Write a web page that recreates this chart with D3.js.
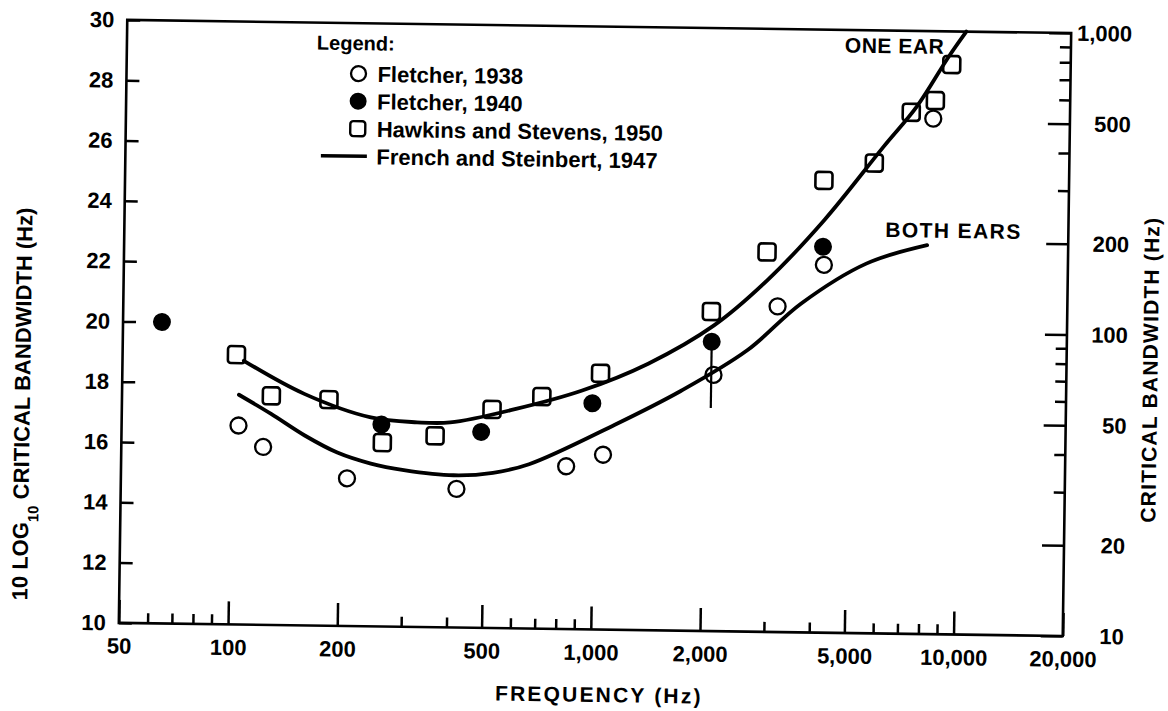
<!DOCTYPE html>
<html><head><meta charset="utf-8">
<script src="https://cdn.jsdelivr.net/npm/d3@7"></script>
<style>
html,body{margin:0;padding:0;background:#fff;}
svg{display:block;}
text{font-family:"Liberation Sans", Arial, Helvetica, sans-serif; font-weight:bold; fill:#000;}
</style></head><body>
<svg id="chart" width="1168" height="711"></svg>
<script>
// ---- data ----
const fletcher1938Freq = [105, 123, 210, 421, 843, 1064, 2130, 3180, 4250, 8400];
const fletcher1938Val  = [16.6, 15.9, 14.9, 14.6, 15.4, 15.8, 18.5, 20.8, 22.2, 27.1];
const fletcher1940Freq = [64, 260, 490, 990, 2100, 4220];
const fletcher1940Val  = [20.0, 16.7, 16.5, 17.5, 19.6, 22.8];
const hawkinsFreq = [103, 129, 186, 262, 366, 524, 718, 1040, 2090, 2960, 4220, 5800, 7300, 8500, 9400];
const hawkinsVal  = [18.95, 17.6, 17.5, 16.1, 16.35, 17.25, 17.7, 18.5, 20.6, 22.6, 25.0, 25.6, 27.3, 27.7, 28.9];
const oneEarFreq = [108, 159, 243, 326, 402, 610, 927, 1406, 2128, 2971, 4242, 6138, 7556, 9213, 10280];
const oneEarVal  = [18.75, 17.68, 16.93, 16.79, 16.8, 17.28, 17.92, 18.84, 20.14, 21.66, 23.68, 26.14, 27.49, 29.16, 30.0];
const bothEarsFreq = [105, 129, 160, 197, 244, 301, 413, 530, 666, 1144, 1733, 2633, 3686, 5561, 8170];
const bothEarsVal  = [17.62, 17.0, 16.3, 15.75, 15.4, 15.2, 15.05, 15.15, 15.45, 16.8, 17.95, 19.33, 20.9, 22.26, 22.9];
const errorBarFreq = [2100];
const errorBarLow  = [17.4];
const errorBarHigh = [19.6];

const leftTicks = [10, 12, 14, 16, 18, 20, 22, 24, 26, 28, 30];
const bottomMajorTicks = [50, 100, 200, 500, 1000, 2000, 5000, 10000, 20000];
const bottomMinorTicks = [60, 70, 80, 90, 300, 400, 600, 700, 800, 900, 3000, 4000, 6000, 7000, 8000, 9000];
const rightMajorTicks = [10, 20, 50, 100, 200, 500, 1000];
const rightMinorTicks = [30, 40, 60, 70, 80, 90, 300, 400, 600, 700, 800, 900];

const legendTitle = "Legend:";
const legendLabels = ["Fletcher, 1938", "Fletcher, 1940", "Hawkins and Stevens, 1950", "French and Steinbert, 1947"];
const legendKinds = ["open", "filled", "square", "line"];

// ---- drawing ----
const svg = d3.select("#chart");
const g = svg.append("g").attr("transform", "rotate(0.8,597,328)");

const x = d3.scaleLog().domain([50, 20000]).range([123, 1067]);
const y = d3.scaleLinear().domain([10, 30]).range([629.5, 26.5]);
const yR = d3.scaleLog().domain([10, 1000]).range([629.5, 26.5]);

function styleAxis(sel, w) {
  sel.select(".domain").remove();
  sel.selectAll(".tick line").attr("stroke", "#000").attr("stroke-width", w);
  sel.selectAll(".tick text").attr("fill", "#000").style("font-size", "22px")
     .style("font-family", '"Liberation Sans", Arial, sans-serif').style("font-weight", "bold");
}

// left axis
g.append("g").attr("transform", `translate(${x(50)},0)`)
  .call(d3.axisLeft(y).tickValues(leftTicks).tickSize(-13).tickPadding(13).tickFormat(d3.format("d")))
  .call(s => styleAxis(s, 2.5));

// bottom axis
g.append("g").attr("transform", `translate(0,${y(10)})`)
  .call(d3.axisBottom(x).tickValues(bottomMajorTicks).tickSize(-23).tickPadding(15).tickFormat(d3.format(",")))
  .call(s => styleAxis(s, 2.5));
g.append("g").attr("transform", `translate(0,${y(10)})`)
  .call(d3.axisBottom(x).tickValues(bottomMinorTicks).tickSize(-10).tickFormat(""))
  .call(s => styleAxis(s, 2.5));

// right axis
g.append("g").attr("transform", `translate(${x(20000)},0)`)
  .call(d3.axisRight(yR).tickValues(rightMajorTicks).tickSize(-22).tickFormat(d3.format(",")))
  .call(s => styleAxis(s, 2.5))
  .call(s => s.selectAll(".tick text").attr("text-anchor", "end").attr("x", 61));
g.append("g").attr("transform", `translate(${x(20000)},0)`)
  .call(d3.axisRight(yR).tickValues(rightMinorTicks).tickSize(-11).tickFormat(""))
  .call(s => styleAxis(s, 2.5));

// frame
g.append("rect")
  .attr("x", x(50)).attr("y", y(30))
  .attr("width", x(20000) - x(50)).attr("height", y(10) - y(30))
  .attr("fill", "none").attr("stroke", "#000").attr("stroke-width", 2.6);

// curves
const line = d3.line().x(d => x(d[0])).y(d => y(d[1])).curve(d3.curveCatmullRom.alpha(0.5));
g.append("path").datum(d3.zip(oneEarFreq, oneEarVal))
  .attr("d", line).attr("fill", "none").attr("stroke", "#000").attr("stroke-width", 3.8).attr("stroke-linecap", "round");
g.append("path").datum(d3.zip(bothEarsFreq, bothEarsVal))
  .attr("d", line).attr("fill", "none").attr("stroke", "#000").attr("stroke-width", 3.8).attr("stroke-linecap", "round");

// error bar
g.selectAll(".errbar").data(d3.zip(errorBarFreq, errorBarLow, errorBarHigh)).join("line")
  .attr("x1", d => x(d[0])).attr("x2", d => x(d[0]))
  .attr("y1", d => y(d[1])).attr("y2", d => y(d[2]))
  .attr("stroke", "#000").attr("stroke-width", 2.2);

// markers
g.selectAll(".sq").data(d3.zip(hawkinsFreq, hawkinsVal)).join("rect")
  .attr("x", d => x(d[0]) - 8.5).attr("y", d => y(d[1]) - 8.5)
  .attr("width", 17).attr("height", 17).attr("rx", 3)
  .attr("fill", "none").attr("stroke", "#000").attr("stroke-width", 2.6);
g.selectAll(".oc").data(d3.zip(fletcher1938Freq, fletcher1938Val)).join("circle")
  .attr("cx", d => x(d[0])).attr("cy", d => y(d[1])).attr("r", 8)
  .attr("fill", "none").attr("stroke", "#000").attr("stroke-width", 2.3);
g.selectAll(".fc").data(d3.zip(fletcher1940Freq, fletcher1940Val)).join("circle")
  .attr("cx", d => x(d[0])).attr("cy", d => y(d[1])).attr("r", 9)
  .attr("fill", "#000");

// curve labels
g.append("text").attr("x", 841).attr("y", 49).style("font-size", "21px").style("letter-spacing", "0.5px").text("ONE EAR");
g.append("text").attr("x", 884).attr("y", 233).style("font-size", "21px").style("letter-spacing", "1.4px").text("BOTH EARS");

// legend
const leg = g.append("g");
leg.append("text").attr("x", 313).attr("y", 53.5).style("font-size", "20px").text(legendTitle);
const rowY = i => 77 + i * 27.5;
legendKinds.forEach((k, i) => {
  const cy = rowY(i);
  if (k === "open") leg.append("circle").attr("cx", 355).attr("cy", cy).attr("r", 7.5).attr("fill", "none").attr("stroke", "#000").attr("stroke-width", 2.3);
  if (k === "filled") leg.append("circle").attr("cx", 355).attr("cy", cy).attr("r", 8.5).attr("fill", "#000");
  if (k === "square") leg.append("rect").attr("x", 347.5).attr("y", cy - 7.5).attr("width", 15).attr("height", 15).attr("rx", 3).attr("fill", "none").attr("stroke", "#000").attr("stroke-width", 2.4);
  if (k === "line") leg.append("line").attr("x1", 318.5).attr("x2", 364.5).attr("y1", cy).attr("y2", cy).attr("stroke", "#000").attr("stroke-width", 3.5);
  leg.append("text").attr("x", 374).attr("y", cy + 8).style("font-size", "22px").text(legendLabels[i]);
});

// axis titles
g.append("text").attr("x", 604).attr("y", 702).attr("text-anchor", "middle")
  .style("font-size", "21px").style("letter-spacing", "2.2px").text("FREQUENCY (Hz)");
const lt = g.append("text").attr("transform", "translate(31,412) rotate(-90)").attr("text-anchor", "middle").style("font-size", "22px");
lt.append("tspan").text("10 LOG");
lt.append("tspan").attr("dy", 10).style("font-size", "15px").text("10");
lt.append("tspan").attr("dy", -10).text(" CRITICAL BANDWIDTH (Hz)");
g.append("text").attr("transform", "translate(1158,362) rotate(-90)").attr("text-anchor", "middle")
  .style("font-size", "21px").style("letter-spacing", "1.2px").text("CRITICAL BANDWIDTH (Hz)");
</script>
</body></html>
